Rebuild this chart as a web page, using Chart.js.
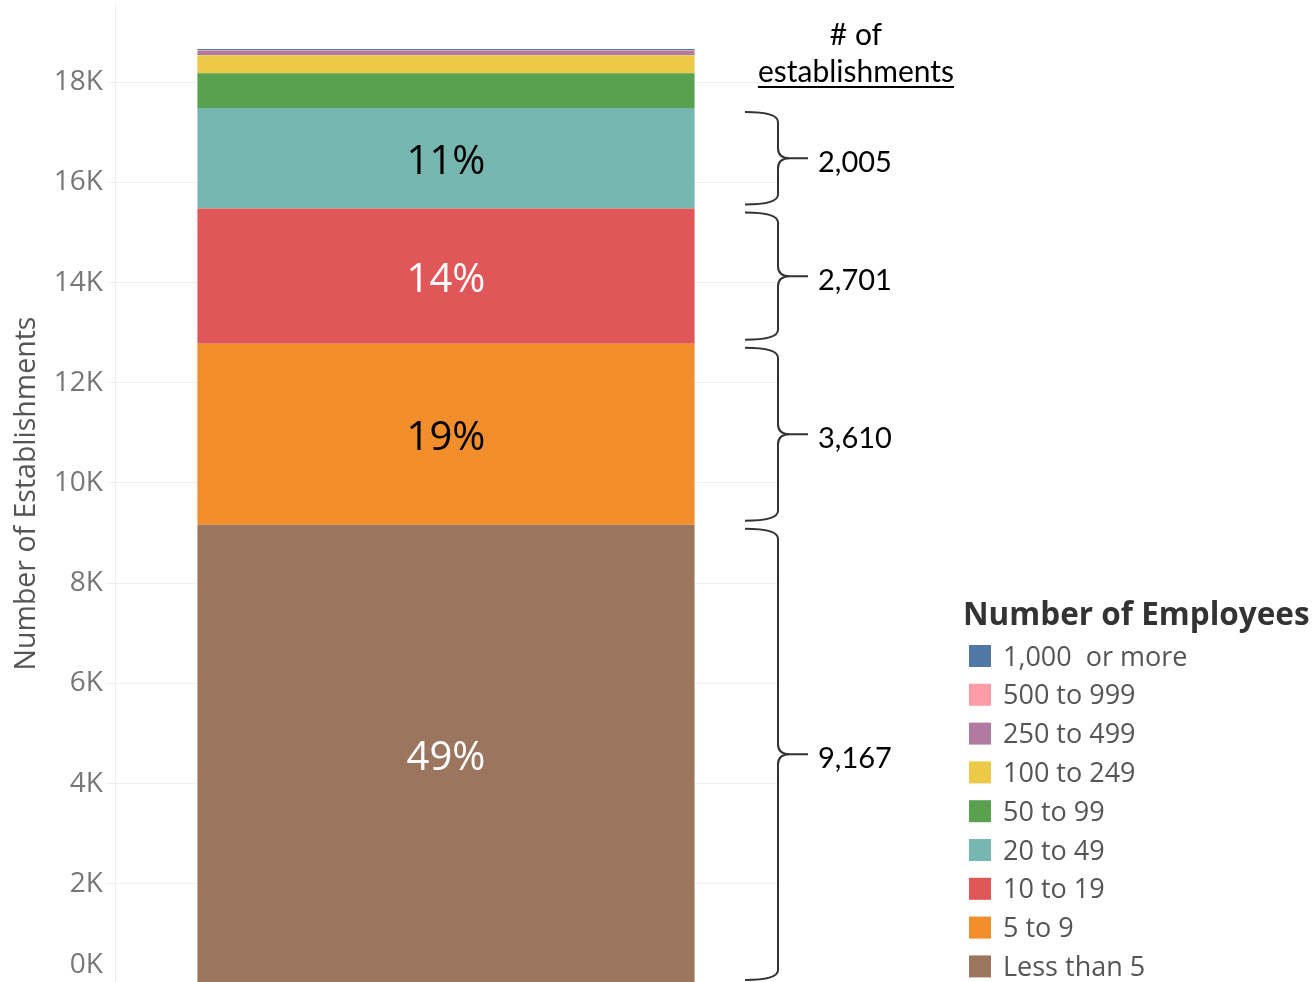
<!DOCTYPE html>
<html>
<head>
<meta charset="utf-8">
<script src="https://cdn.jsdelivr.net/npm/chart.js@4.4.1/dist/chart.umd.min.js"></script>
<style>
html, body { margin: 0; padding: 0; background: #fff; overflow: hidden; }
#caja { position: absolute; left: 0; top: 0; width: 1314px; height: 984px; }
</style>
</head>
<body>
<div id="caja"><canvas id="lienzo"></canvas></div>
<script>
// Datos (de abajo hacia arriba en la barra)
const categorias = ['Establecimientos'];
const grupos = ['Less than 5', '5 to 9', '10 to 19', '20 to 49', '50 to 99', '100 to 249', '250 to 499', '500 to 999', '1,000  or more'];
const establecimientos = [9167, 3610, 2701, 2005, 695, 360, 88, 12, 26];
const colores = ['#9c755f', '#f28e2b', '#e15759', '#76b7b2', '#59a14f', '#edc948', '#b07aa1', '#ff9da7', '#4e79a7'];
const valoresEje = [0, 2000, 4000, 6000, 8000, 10000, 12000, 14000, 16000, 18000];
const etiquetasEje = ['0K', '2K', '4K', '6K', '8K', '10K', '12K', '14K', '16K', '18K'];
// grupos que llevan % y llave con el total
const marcados = [0, 1, 2, 3];
const colorPct = ['#ffffff', '#000000', '#ffffff', '#000000'];
const tituloLeyenda = 'Number of Employees';

const total = establecimientos.reduce((a, b) => a + b, 0);

const extras = {
    id: 'extras',
    afterDatasetsDraw(chart) {
        const ctx = chart.ctx;
        const y = chart.scales.y;
        const meta0 = chart.getDatasetMeta(0).data[0];
        const xc = meta0.x;
        ctx.save();

        // porcentajes dentro de la barra y llaves a la derecha
        let acumulado = 0;
        establecimientos.forEach((v, i) => {
            const yBase = y.getPixelForValue(acumulado);
            const yTope = y.getPixelForValue(acumulado + v);
            acumulado += v;
            const k = marcados.indexOf(i);
            if (k < 0) return;
            const medio = (yBase + yTope) / 2;

            ctx.font = '40px "Open Sans", sans-serif';
            ctx.fillStyle = colorPct[k];
            ctx.textAlign = 'center';
            ctx.textBaseline = 'middle';
            ctx.fillText(Math.round(v / total * 100) + '%', xc, medio + 4);

            // llave
            const arriba = yTope + 4, abajo = yBase - 4;
            const xL = 745, xV = 778, r = 10;
            ctx.strokeStyle = '#333';
            ctx.lineWidth = 2;
            ctx.beginPath();
            ctx.moveTo(xL, arriba);
            ctx.quadraticCurveTo(xV, arriba, xV, arriba + r);
            ctx.lineTo(xV, medio - r);
            ctx.quadraticCurveTo(xV, medio, xV + 12, medio);
            ctx.quadraticCurveTo(xV, medio, xV, medio + r);
            ctx.lineTo(xV, abajo - r);
            ctx.quadraticCurveTo(xV, abajo, xL, abajo);
            ctx.moveTo(xV + 12, medio);
            ctx.lineTo(808, medio);
            ctx.stroke();

            ctx.font = '29px Lato, sans-serif';
            ctx.fillStyle = '#000';
            ctx.textAlign = 'left';
            ctx.fillText(v.toLocaleString('en-US'), 818, medio + 4);
        });

        // encabezado de las llaves
        ctx.font = '30px Lato, sans-serif';
        ctx.fillStyle = '#000';
        ctx.textAlign = 'center';
        ctx.textBaseline = 'middle';
        ctx.fillText('# of', 856, 35);
        ctx.fillText('establishments', 856, 72);
        const ancho = ctx.measureText('establishments').width;
        ctx.fillRect(856 - ancho / 2, 86, ancho, 2);

        // leyenda
        ctx.textAlign = 'left';
        ctx.font = 'bold 31.5px "Open Sans", sans-serif';
        ctx.fillStyle = '#333';
        ctx.fillText(tituloLeyenda, 963, 616);
        ctx.font = '27px "Open Sans", sans-serif';
        const orden = grupos.map((g, i) => i).reverse();
        orden.forEach((i, fila) => {
            const yc = 656 + fila * 38.8;
            ctx.fillStyle = colores[i];
            ctx.fillRect(969, yc - 11, 22, 22);
            ctx.fillStyle = '#555';
            ctx.fillText(grupos[i], 1003, yc + 2);
        });
        ctx.restore();
    }
};

const contexto = document.getElementById('lienzo').getContext('2d');
const grafico = new Chart(contexto, {
    type: 'bar',
    data: {
        labels: categorias,
        datasets: grupos.map((g, i) => ({
            label: g,
            data: [establecimientos[i]],
            backgroundColor: colores[i],
            borderWidth: 0,
            barPercentage: 0.751,
            categoryPercentage: 1
        }))
    },
    options: {
        responsive: true,
        maintainAspectRatio: false,
        animation: false,
        layout: { padding: { left: 0, right: 537, top: 3, bottom: 0 } },
        scales: {
            x: { stacked: true, display: false },
            y: {
                stacked: true,
                min: 0,
                max: 19580,
                afterFit: (s) => { s.width = 115; s.paddingTop = 0; s.paddingBottom = 0; },
                afterBuildTicks: (s) => { s.ticks = valoresEje.map(v => ({ value: v })); },
                ticks: {
                    autoSkip: false,
                    padding: 4,
                    color: '#777',
                    font: { family: '"Open Sans", sans-serif', size: 28, lineHeight: 1.36 },
                    callback: (v) => {
                        const t = etiquetasEje[valoresEje.indexOf(v)];
                        return v === 0 ? [t, ''] : t;
                    }
                },
                grid: { color: '#efefef', lineWidth: 1, tickLength: 8 },
                border: { display: true, color: '#eeeeee' },
                title: {
                    display: true,
                    text: 'Number of Establishments',
                    color: '#555',
                    font: { family: '"Open Sans", sans-serif', size: 28.5 },
                    padding: { top: 10, bottom: 0 }
                }
            }
        },
        plugins: {
            legend: { display: false },
            tooltip: { enabled: false }
        }
    },
    plugins: [extras]
});
</script>
</body>
</html>
